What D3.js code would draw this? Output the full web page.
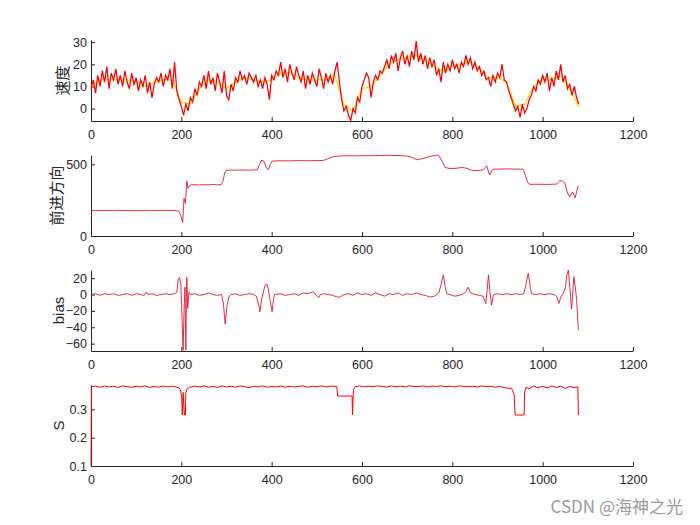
<!DOCTYPE html>
<html><head><meta charset="utf-8">
<script src="https://cdn.jsdelivr.net/npm/d3@7"></script>
<style>
body{margin:0;background:#fff;}
svg{display:block;}
.tick text{font-family:"Liberation Sans",Arial,sans-serif;font-size:12.5px;fill:#262626;}
.tick line,.domain{stroke:#262626;}
</style></head>
<body>
<svg id="chart" width="700" height="525"></svg>
<script>
// ---------- DATA ----------
const xTicks = [0,200,400,600,800,1000,1200];

// Panel 1: 速度 (speed), sampled every 5 units from 0 to 1080
const speedStep = 5;
const speedY = [
 9,13,7,15,10,17,12,19,9,16,
 13,18,11,15,10,17,12,9,16,11,
 14,8,13,10,15,7,12,5,11,14,
 12,16,10,15,13,18,9,21,8,4,
 1,-3,2,-1,5,3,9,6,12,10,
 15,9,17,11,14,8,16,12,7,17,
 6,4,11,8,14,12,17,13,15,11,
 16,14,12,15,10,13,9,14,11,4,
 15,13,17,15,21,14,18,12,20,16,
 13,19,15,12,17,9,15,11,16,13,
 10,18,14,9,16,12,15,11,17,21,
 12,4,-1,1,-3,-5.5,0,-2,5,3,
 10,13,16,14,5,12,15,13,17,16,
 19,22,18,24,21,25,17,23,26,20,
 24,19,26,22,30.5,21,25,20,24,18,
 23,19,22,15,18,12,21,16,20,17,
 22,18,20,16,21,19,24,20,23,18,
 21,17,19,15,17,13,14,10,15,12,
 16,14,20,13,12,8,5,2,-1,1,
 -4,2,-2,0,4,6,10,8,13,11,
 15,12,16,8,14,10,17,13,20,12,
 15,9,11,6,10,5,2
];
// smoothed speed (yellow), every 20 units
const smoothStep = 20;
const speedSmooth = [10,13,13,13,13,12,10,12,13,13,3,2,9,13,12,9,12,14,13,12,13,16,16,14,13,13,13,15,2,-1,9,10,15,20,22,23,24,22,19,17,19,20,21,18,14,14,12,1,2,10,13,13,15,9,1];
const speedTicks = [0,10,20,30];

// Panel 2: 前进方向 (heading)
const dirX = [0,10,20,30,40,50,60,70,80,90,100,110,120,130,140,150,160,170,180,190,195,199,203,206,209,212,215,218,222,230,240,250,260,270,280,288,292,296,300,310,320,330,340,350,360,368,373,378,383,388,393,397,401,410,420,440,460,480,500,515,525,537,550,570,590,610,630,650,662,680,700,712,721,735,750,762,769,776,784,795,810,822,832,846,860,869,874,876,880,883,887,890,905,920,940,957,962,967,972,990,1010,1031,1038,1044,1049,1055,1060,1066,1072,1076,1079];
const dirY = [178,176,179,177,178,176,179,177,178,176,178,177,179,176,178,177,179,177,178,176,172,140,95,262,228,385,332,350,357,358,356,358,357,359,357,358,380,440,458,460,459,461,460,459,461,462,500,530,520,478,462,500,522,524,525,524,526,525,526,527,540,553,558,560,559,561,560,562,563,561,558,548,532,540,555,562,565,530,478,470,473,478,472,455,458,462,480,490,450,425,455,466,467,468,467,466,420,372,360,361,360,362,388,382,370,300,273,308,266,320,350];
const dirTicks = [0,500];

// Panel 3: bias
const biasX = [0,10,20,30,40,50,60,70,80,90,100,110,118,122,126,135,145,155,165,175,185,190,193,196,199,201,204,206,208,209,210,211,212,213,214,217,220,230,240,250,260,270,280,289,293,297,301,305,310,320,330,340,350,360,366,371,374,378,383,386,389,392,395,398,401,404,407,420,430,440,450,460,470,480,490,493,497,501,504,508,515,525,535,545,552,560,570,580,590,600,610,620,630,640,650,660,670,680,690,700,710,720,730,740,750,760,770,775,780,784,788,795,805,815,825,830,835,840,850,860,868,874,877,880,883,887,890,892,900,910,920,930,940,950,958,962,968,972,975,985,995,1005,1015,1025,1031,1036,1040,1046,1050,1054,1057,1060,1064,1067,1069,1072,1075,1079];
const biasY = [0,1,-1,1,0,1,-1,0,1,-1,1,0,-1,3,0,1,-1,0,1,0,1,3,18,21,12,-20,-68,-20,9,-30,-68,-10,21,5,-17,3,0,1,-1,0,2,0,-1,0,-10,-36,-15,-3,0,1,-1,0,1,0,-2,-12,-21,-5,6,12,13,8,-2,-12,-21,-5,0,1,-1,0,1,-1,2,1,3,3,0,-2,-4,0,1,0,-1,-3,-3,0,1,-1,2,0,1,-1,2,0,-2,1,0,2,-1,1,0,2,0,-1,-3,-2,2,12,24,10,1,0,-2,-1,1,4,9,2,0,-1,-2,-11,5,24,5,-13,-3,0,1,0,1,0,1,0,1,10,26,12,1,0,1,0,1,0,-2,-11,-3,2,8,25,30,10,-18,5,22,10,-5,-43];
const biasTicks = [-60,-40,-20,0,20];

// Panel 4: S
const sX = [0,1,10,20,30,40,50,60,70,80,90,100,110,120,130,140,150,160,170,180,190,195,198,201,202,204,206,207,209,210,213,218,230,240,250,260,270,280,290,300,310,320,330,340,350,360,370,380,390,400,410,420,430,440,450,460,470,480,490,500,510,520,530,540,544,546,578,579,581,585,595,605,615,625,635,645,655,665,675,685,695,705,715,725,735,745,755,765,775,785,795,805,815,825,835,845,855,865,875,885,895,905,915,925,930,934,937,939,959,960,963,970,980,990,1000,1010,1020,1030,1040,1050,1060,1070,1078,1079];
const sY = [0.1,0.38,0.382,0.378,0.383,0.379,0.382,0.377,0.383,0.380,0.378,0.382,0.379,0.383,0.377,0.381,0.378,0.383,0.379,0.382,0.378,0.376,0.37,0.34,0.28,0.36,0.30,0.28,0.28,0.36,0.372,0.378,0.382,0.379,0.383,0.378,0.381,0.377,0.383,0.379,0.382,0.378,0.383,0.380,0.377,0.382,0.379,0.383,0.378,0.381,0.379,0.383,0.378,0.382,0.379,0.381,0.383,0.378,0.382,0.380,0.383,0.379,0.382,0.381,0.381,0.347,0.347,0.28,0.37,0.38,0.383,0.379,0.382,0.380,0.383,0.381,0.379,0.383,0.380,0.382,0.379,0.383,0.381,0.380,0.383,0.379,0.382,0.381,0.383,0.380,0.382,0.379,0.383,0.381,0.380,0.382,0.379,0.383,0.380,0.382,0.378,0.381,0.377,0.374,0.375,0.365,0.35,0.28,0.28,0.36,0.378,0.373,0.383,0.376,0.382,0.375,0.383,0.377,0.382,0.374,0.381,0.376,0.38,0.28];
const sTicks = [0.1,0.2,0.3];

// ---------- DRAW ----------
const svg = d3.select("#chart");
const x = d3.scaleLinear().domain([0,1200]).range([91,633]);
const panelH = 81;
const tops = [40,155,270,385];

function panel(top, domain, ticks, fmt, label, labelX, labelFont){
  const y = d3.scaleLinear().domain(domain).range([top+panelH, top]);
  const g = svg.append("g");
  g.append("g").attr("transform",`translate(0,${top+panelH})`)
    .call(d3.axisBottom(x).tickValues(xTicks).tickFormat(d3.format("d")).tickSize(-4).tickSizeOuter(0).tickPadding(9));
  g.append("g").attr("transform",`translate(91,0)`)
    .call(d3.axisLeft(y).tickValues(ticks).tickFormat(fmt).tickSize(-4).tickSizeOuter(0).tickPadding(4));
  g.append("text").attr("transform",`translate(${labelX},${top+panelH/2}) rotate(-90)`)
    .attr("text-anchor","middle").attr("dy","0.35em")
    .style("font-family",labelFont).style("font-size","15px").style("fill","#262626")
    .text(label);
  return {g,y};
}
const cjk = '"Noto Sans CJK SC","Noto Sans CJK JP",sans-serif';
const lat = '"Liberation Sans",Arial,sans-serif';

// panel 1
const p1 = panel(tops[0], [-5.6,31], speedTicks, d3.format("d"), "速度", 63, cjk);
p1.g.append("path").datum(speedSmooth)
  .attr("d", d3.line().x((d,i)=>x(i*smoothStep)).y(d=>p1.y(d)))
  .attr("fill","none").attr("stroke","#ffd400").attr("stroke-width",1.2);
p1.g.append("path").datum(speedY)
  .attr("d", d3.line().x((d,i)=>x(i*speedStep)).y(d=>p1.y(d)))
  .attr("fill","none").attr("stroke","#ff0000").attr("stroke-width",1.25);

// panel 2
const p2 = panel(tops[1], [0,565], dirTicks, d3.format("d"), "前进方向", 57, cjk);
p2.g.append("path").datum(dirX.map((v,i)=>[v,dirY[i]]))
  .attr("d", d3.line().x(d=>x(d[0])).y(d=>p2.y(d[1])))
  .attr("fill","none").attr("stroke","#e3172e").attr("stroke-width",0.9);

// panel 3
const p3 = panel(tops[2], [-69,30], biasTicks, d3.format("d"), "bias", 59, lat);
p3.g.append("path").datum(biasX.map((v,i)=>[v,biasY[i]]))
  .attr("d", d3.line().x(d=>x(d[0])).y(d=>p3.y(d[1])))
  .attr("fill","none").attr("stroke","#e3172e").attr("stroke-width",0.9);

// panel 4
const p4 = panel(tops[3], [0.1,0.386], sTicks, d3.format(".1f"), "S", 58.5, lat);
p4.g.append("path").datum(sX.map((v,i)=>[v,sY[i]]))
  .attr("d", d3.line().x(d=>x(d[0])).y(d=>p4.y(d[1])))
  .attr("fill","none").attr("stroke","#ff0000").attr("stroke-width",1);

// watermark
svg.append("text").attr("x",683).attr("y",513).attr("text-anchor","end")
  .style("font-family",'"Noto Sans CJK SC",sans-serif').style("font-size","17px").style("fill","#9a9a9a")
  .text("CSDN @海神之光");
</script>
</body></html>
